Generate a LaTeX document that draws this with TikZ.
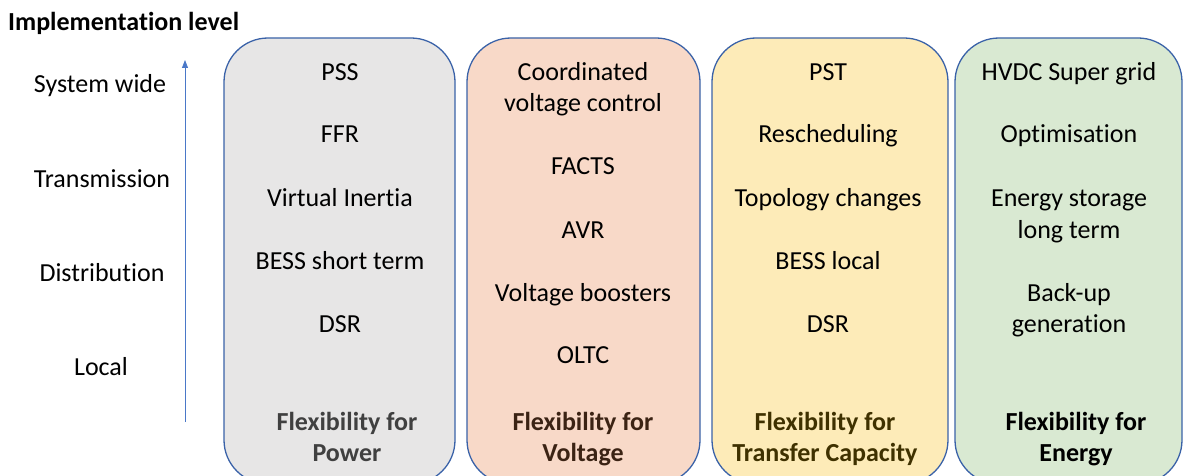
\documentclass[tikz,border=0pt]{standalone}
\usepackage{fontspec}
\setmainfont[Ligatures=NoCommon]{Carlito}
\usetikzlibrary{arrows.meta}
\definecolor{boxline}{HTML}{3A62A8}
\definecolor{arrowblue}{HTML}{4A78C8}
\definecolor{fillgray}{HTML}{E7E6E6}
\definecolor{fillpeach}{HTML}{F8D9C8}
\definecolor{fillyellow}{HTML}{FDEBB8}
\definecolor{fillgreen}{HTML}{D9E9D2}
\definecolor{txtgray}{HTML}{404040}
\definecolor{txtbrown}{HTML}{3B2314}
\definecolor{txtolive}{HTML}{3F3100}
\tikzset{
  colbox/.style={draw=boxline, line width=1.3pt, rounded corners=44pt},
  item/.style={anchor=base, inner sep=0pt, font=\fontsize{26}{31.4}\selectfont},
  head/.style={anchor=base, inner sep=0pt, font=\fontsize{26}{31.4}\selectfont\bfseries},
  level/.style={anchor=base, inner sep=0pt, font=\fontsize{26}{31.4}\selectfont},
}
\begin{document}
\begin{tikzpicture}[x=1pt, y=-1pt]
\useasboundingbox (0,0) rectangle (1184,476);
% title
\node[head, anchor=base west] (title) at (8,31) {Implementation level};
% levels
\node[level] (sys) at (100,93) {System wide};
\node[level] (tra) at (102,187) {Transmission};
\node[level] (dis) at (102,281) {Distribution};
\node[level] (loc) at (101,375) {Local};
\coordinate (abot) at (185,422);
\coordinate (atop) at (185,60);
\draw[arrowblue, line width=0.8pt, -{Triangle[length=8pt,width=6pt]}] (abot) -- (atop);
% boxes
\path[colbox, fill=fillgray]   (224,38) rectangle (455,484);
\path[colbox, fill=fillpeach]  (467,38) rectangle (700,484);
\path[colbox, fill=fillyellow] (712,38) rectangle (948,484);
\path[colbox, fill=fillgreen]  (955,38) rectangle (1182,484);
% box 1
\node[item] (b1a) at (340,81) {PSS};
\node[item] (b1b) at (340,143) {FFR};
\node[item] (b1c) at (340,206) {Virtual Inertia};
\node[item] (b1d) at (340,269) {BESS short term};
\node[item] (b1e) at (340,332) {DSR};
\node[head, text=txtgray] (b1f) at (347,430) {Flexibility for};
\node[head, text=txtgray] (b1g) at (347,461) {Power};
% box 2
\node[item] (b2a) at (583,81) {Coordinated};
\node[item] (b2b) at (583,112) {voltage control};
\node[item] (b2c) at (583,175) {FACTS};
\node[item] (b2d) at (583,238) {AVR};
\node[item] (b2e) at (583,301) {Voltage boosters};
\node[item] (b2f) at (583,363) {OLTC};
\node[head, text=txtbrown] (b2g) at (583,430) {Flexibility for};
\node[head, text=txtbrown] (b2h) at (583,461) {Voltage};
% box 3
\node[item] (b3a) at (828,81) {PST};
\node[item] (b3b) at (828,143) {Rescheduling};
\node[item] (b3c) at (828,206) {Topology changes};
\node[item] (b3d) at (828,269) {BESS local};
\node[item] (b3e) at (828,332) {DSR};
\node[head, text=txtolive] (b3f) at (825,430) {Flexibility for};
\node[head, text=txtolive] (b3g) at (825,461) {Transfer Capacity};
% box 4
\node[item] (b4a) at (1069,81) {HVDC Super grid};
\node[item] (b4b) at (1069,143) {Optimisation};
\node[item] (b4c) at (1069,206) {Energy storage};
\node[item] (b4d) at (1069,238) {long term};
\node[item] (b4e) at (1069,301) {Back-up};
\node[item] (b4f) at (1069,332) {generation};
\node[head] (b4g) at (1076,430) {Flexibility for};
\node[head] (b4h) at (1076,461) {Energy};
\end{tikzpicture}
\end{document}
